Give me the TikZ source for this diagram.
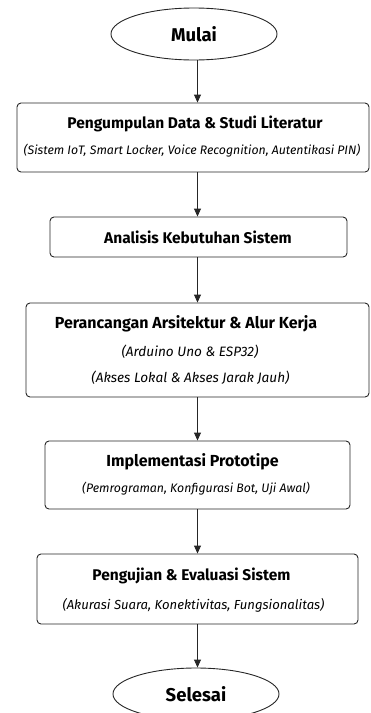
\documentclass[tikz,border=0pt]{standalone}
\usepackage{fontspec}
\setmainfont{Fira Sans}
\usetikzlibrary{shapes.geometric,arrows.meta}
\begin{document}
\begin{tikzpicture}[x=1pt,y=-1pt,
  line width=0.9pt, draw=black!85,
  term/.style={ellipse,draw,minimum width=166pt,minimum height=52pt,inner sep=0pt,font=\fontsize{18.5}{22}\selectfont\bfseries},
  stepbox/.style={draw,rounded corners=4pt,inner sep=0pt},
  ttl/.style={font=\fontsize{15.5}{18}\selectfont\bfseries,inner sep=0pt},
  sub/.style={font=\fontsize{12.3}{15}\selectfont\itshape,inner sep=0pt},
  conn/.style={-{Triangle[length=8pt,width=7pt]}}]
\useasboundingbox (0,0) rectangle (371,713);
\begin{scope}
\clip (0,0) rectangle (371,713);
\node[term] (start) at (194,34) {Mulai};
\node[stepbox,minimum width=352pt,minimum height=69pt] (b1) at (193,137.5) {};
\node[ttl] (t1) at (195,124) {Pengumpulan Data \& Studi Literatur};
\node[sub] (s1) at (192,151) {(Sistem IoT, Smart Locker, Voice Recognition, Autentikasi PIN)};
\node[stepbox,minimum width=297pt,minimum height=40pt] (b2) at (198.5,237) {};
\node[ttl] (t2) at (198,237) {Analisis Kebutuhan Sistem};
\node[stepbox,minimum width=343pt,minimum height=94pt] (b3) at (197.5,350) {};
\node[ttl,font=\fontsize{16}{19}\selectfont\bfseries] (t3) at (186,324) {Perancangan Arsitektur \& Alur Kerja};
\node[sub,font=\fontsize{13.6}{16}\selectfont\itshape] (s3a) at (190,352) {(Arduino Uno \& ESP32)};
\node[sub,font=\fontsize{13.6}{16}\selectfont\itshape] (s3b) at (190.5,378) {(Akses Lokal \& Akses Jarak Jauh)};
\node[stepbox,minimum width=305pt,minimum height=68pt] (b4) at (197.5,475) {};
\node[ttl,font=\fontsize{16}{19}\selectfont\bfseries] (t4) at (192.5,462) {Implementasi Prototipe};
\node[sub] (s4) at (196,489) {(Pemrograman, Konfigurasi Bot, Uji Awal)};
\node[stepbox,minimum width=321pt,minimum height=70pt] (b5) at (197.5,589) {};
\node[ttl] (t5) at (191.5,576) {Pengujian \& Evaluasi Sistem};
\node[sub,font=\fontsize{13.1}{16}\selectfont\itshape] (s5) at (193.5,605) {(Akurasi Suara, Konektivitas, Fungsionalitas)};
\node[term] (end) at (196,694) {Selesai};
\draw[conn] (start.south -| 197.5,0) -- (b1.north -| 197.5,0);
\draw[conn] (b1.south -| 197.5,0) -- (b2.north -| 197.5,0);
\draw[conn] (b2.south -| 197.5,0) -- (b3.north -| 197.5,0);
\draw[conn] (b3.south -| 197.5,0) -- (b4.north -| 197.5,0);
\draw[conn] (b4.south -| 197.5,0) -- (b5.north -| 197.5,0);
\draw[conn] (b5.south -| 197.5,0) -- (end.north -| 197.5,0);
\end{scope}
\end{tikzpicture}
\end{document}
